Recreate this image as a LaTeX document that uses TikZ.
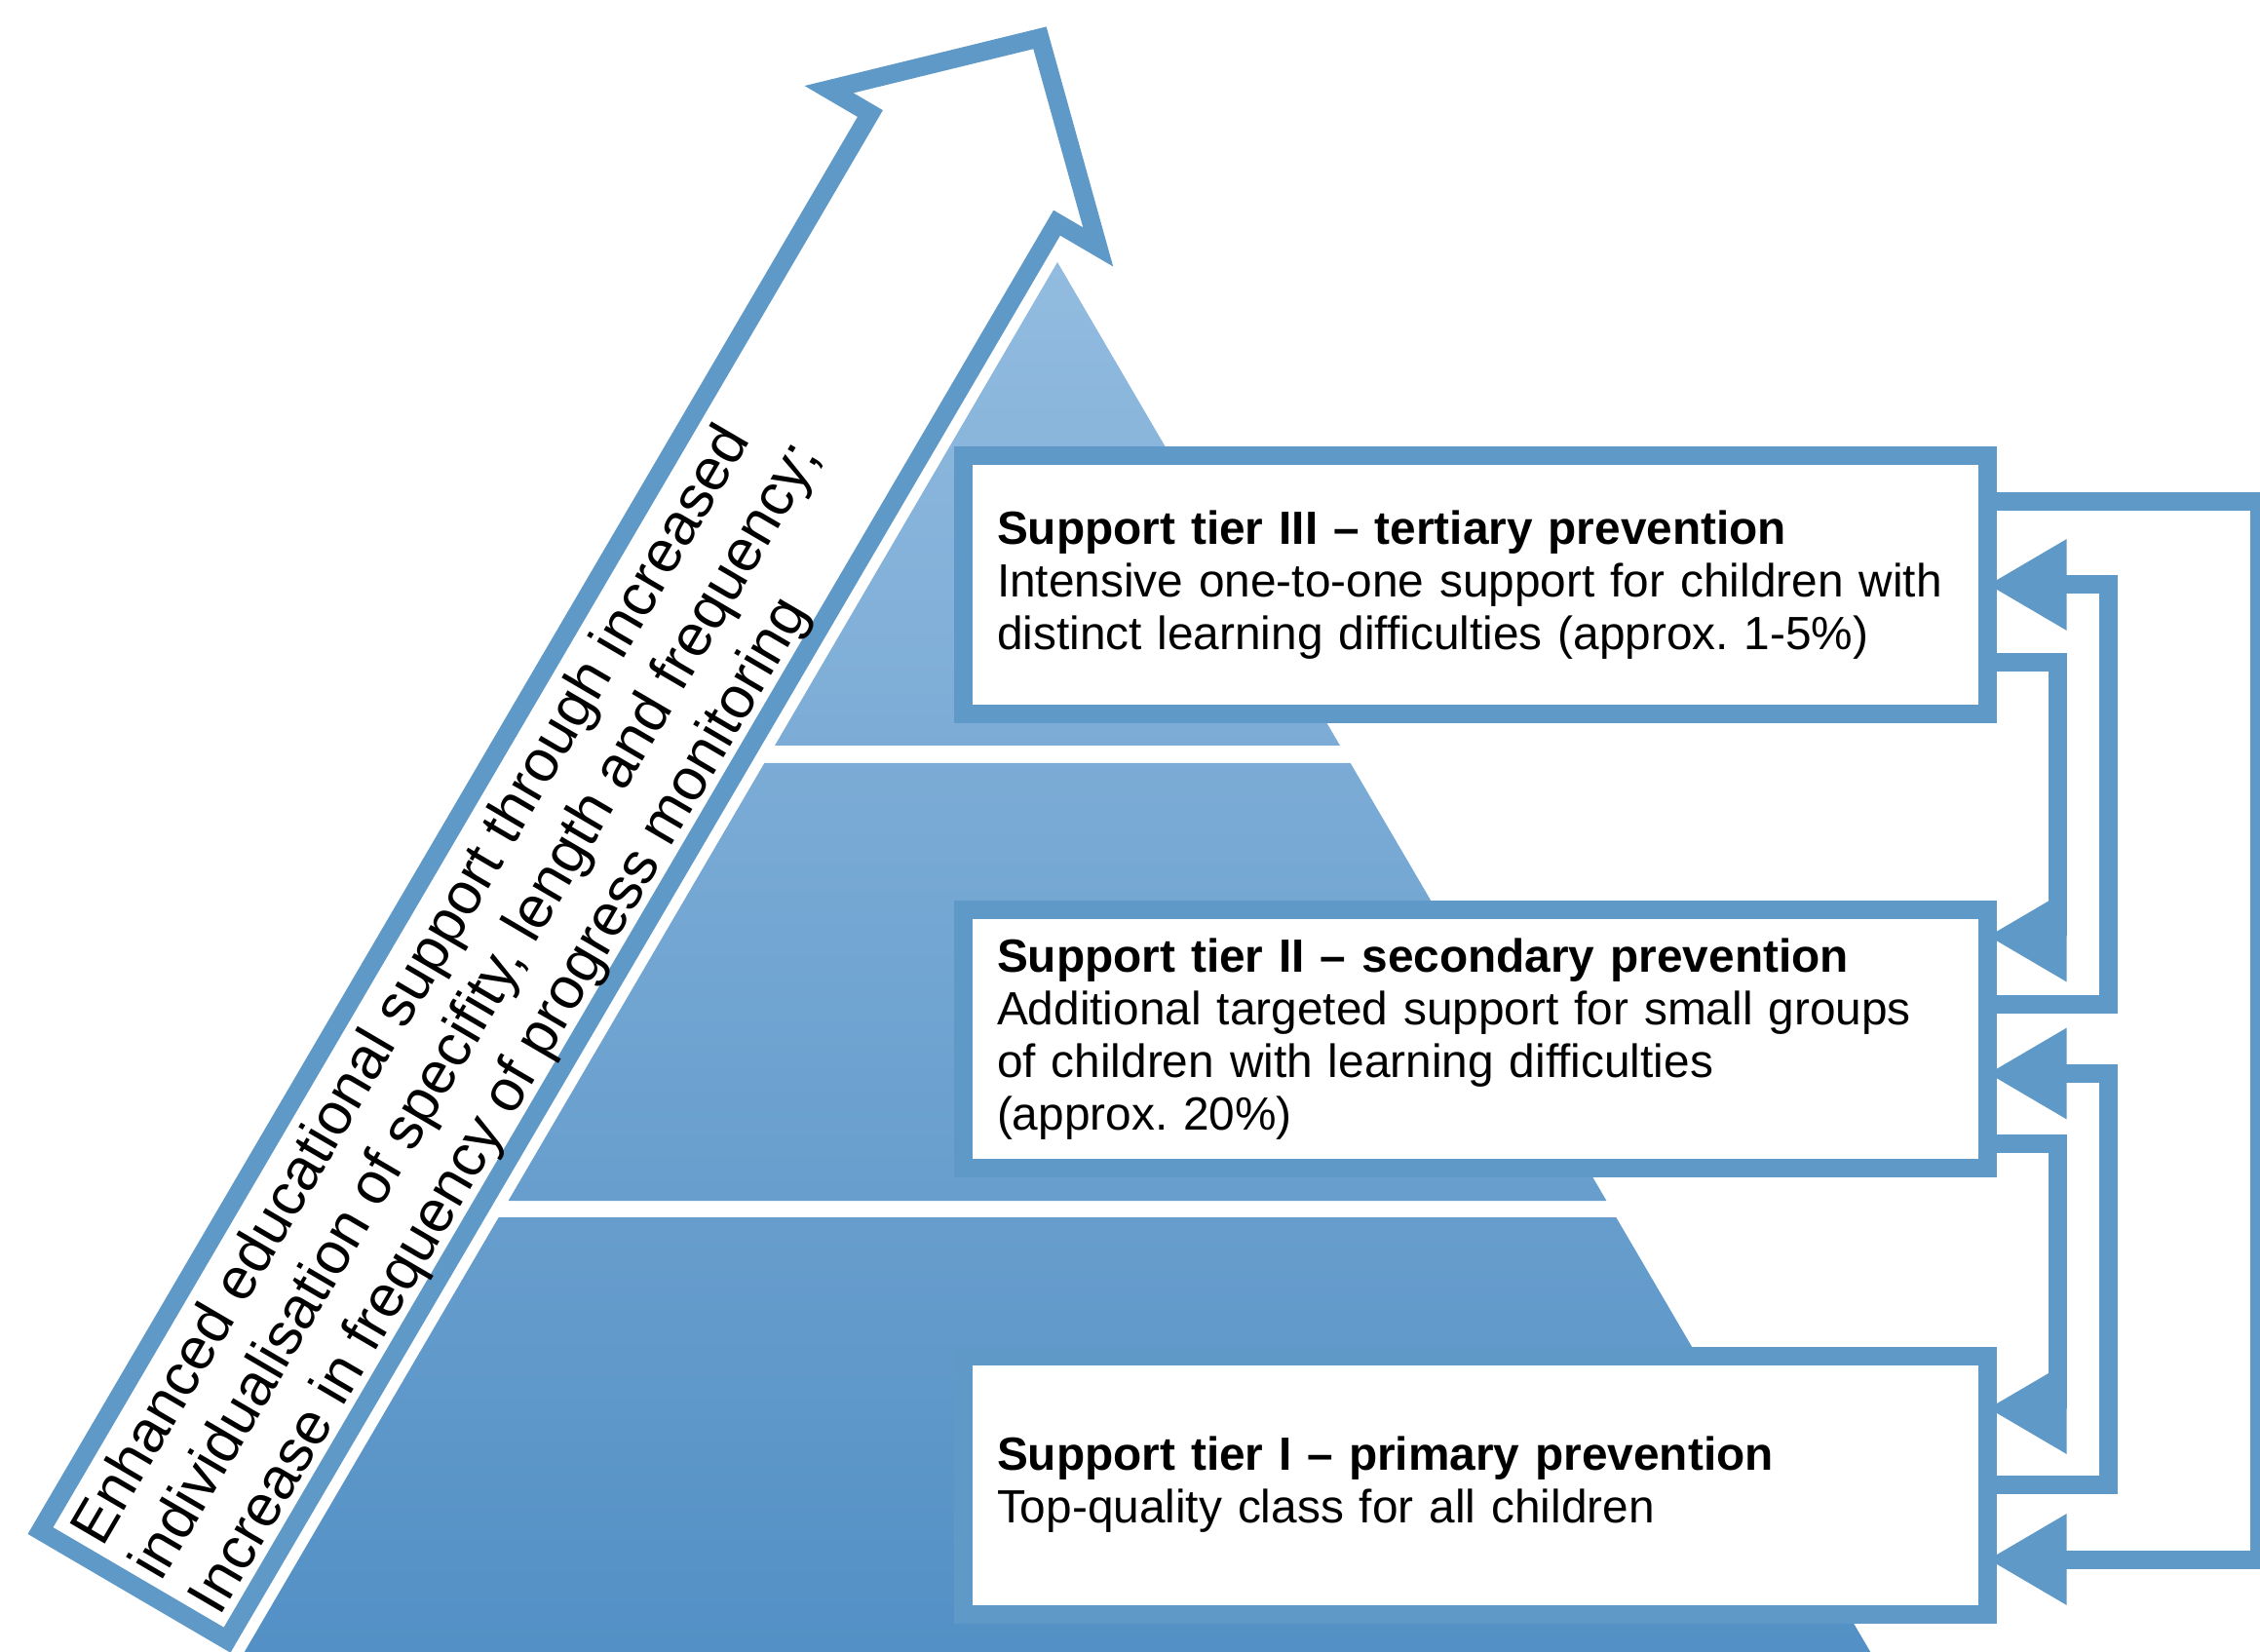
\documentclass[tikz,border=0pt]{standalone}
\usepackage{fontspec}
\setmainfont{Liberation Sans}
\usepackage{tikz}
\usetikzlibrary{arrows.meta,positioning,calc}
\definecolor{framecol}{RGB}{95,153,199}
\definecolor{pyrtop}{RGB}{146,187,223}
\definecolor{pyrbot}{RGB}{83,144,197}
\newcommand{\boxfont}{\fontsize{13.6pt}{15.4pt}\selectfont}
\newcommand{\trendfont}{\fontsize{17.2pt}{19.9pt}\selectfont}
\frenchspacing

\begin{document}
\begin{tikzpicture}[
  tierbox/.style={rectangle,draw=framecol,line width=1.9mm,fill=white,outer sep=0pt,minimum width=10.515cm,minimum height=2.65cm,text width=9.815cm,inner xsep=0pt,align=left,font=\boxfont},
  trendline/.style={draw=framecol,line width=1.9mm,line join=miter},
  link/.style={draw=framecol,line width=1.9mm,-{Triangle[length=8.1mm,width=8.8mm]}}
]
  \useasboundingbox (0,0) rectangle (23.19,16.94);

  % pyramid, three tiers under one shading
  \begin{scope}
    \clip (7.95,9.29) -- (10.85,14.25) -- (13.75,9.29) -- cycle
          (7.843,9.11) -- (13.857,9.11) -- (16.484,4.62) -- (5.216,4.62) -- cycle
          (5.117,4.45) -- (16.583,4.45) -- (19.245,-0.1) -- (2.455,-0.1) -- cycle;
    \shade[top color=pyrtop,bottom color=pyrbot] (2.4,0) rectangle (19.3,14.25);
  \end{scope}

  % big arrow along the left flank
  \begin{scope}[shift={(1.373,0.674)},rotate=59.65]
    \draw[trendline,fill=white] (0,-1.11) -- (16.85,-1.11) -- (16.85,-1.60) -- (18.40,0)
      -- (16.85,1.60) -- (16.85,1.11) -- (0,1.11) -- cycle;
    \node[transform shape,anchor=base west,align=left,inner sep=0pt,font=\trendfont] (trend) at (0.16,-0.93)
      {Enhanced educational support through increased\\
       individualisation of specifity, length and frequency;\\
       Increase in frequency of progress monitoring};
  \end{scope}

  \node[tierbox] (t3) at (15.1375,10.94)
    {\textbf{Support tier III – tertiary prevention}\\
     Intensive one-to-one support for children with\\
     distinct learning difficulties (approx. 1-5\%)};
  \node[tierbox,below=2.01cm of t3] (t2)
    {\textbf{Support tier II – secondary prevention}\\
     Additional targeted support for small groups\\
     of children with learning difficulties\\
     (approx. 20\%)};
  \node[tierbox,below=1.925cm of t2] (t1)
    {\textbf{Support tier I – primary prevention}\\
     Top-quality class for all children};

  \draw[link] ([yshift=-8mm]t3.east) -- ++(0.715,0) |- ([yshift=10.55mm]t2.east);
  \draw[link] ([yshift=3.55mm]t2.east) -- ++(1.235,0) |- (t3.east);
  \draw[link] (t1.east) -- ++(1.235,0) |- ([yshift=-3.55mm]t2.east);
  \draw[link] ([yshift=-10.75mm]t2.east) -- ++(0.715,0) |- ([yshift=7.85mm]t1.east);
  \draw[link] ([yshift=8.5mm]t3.east) -- ++(2.79,0) |- ([yshift=-7.65mm]t1.east);
\end{tikzpicture}
\end{document}
